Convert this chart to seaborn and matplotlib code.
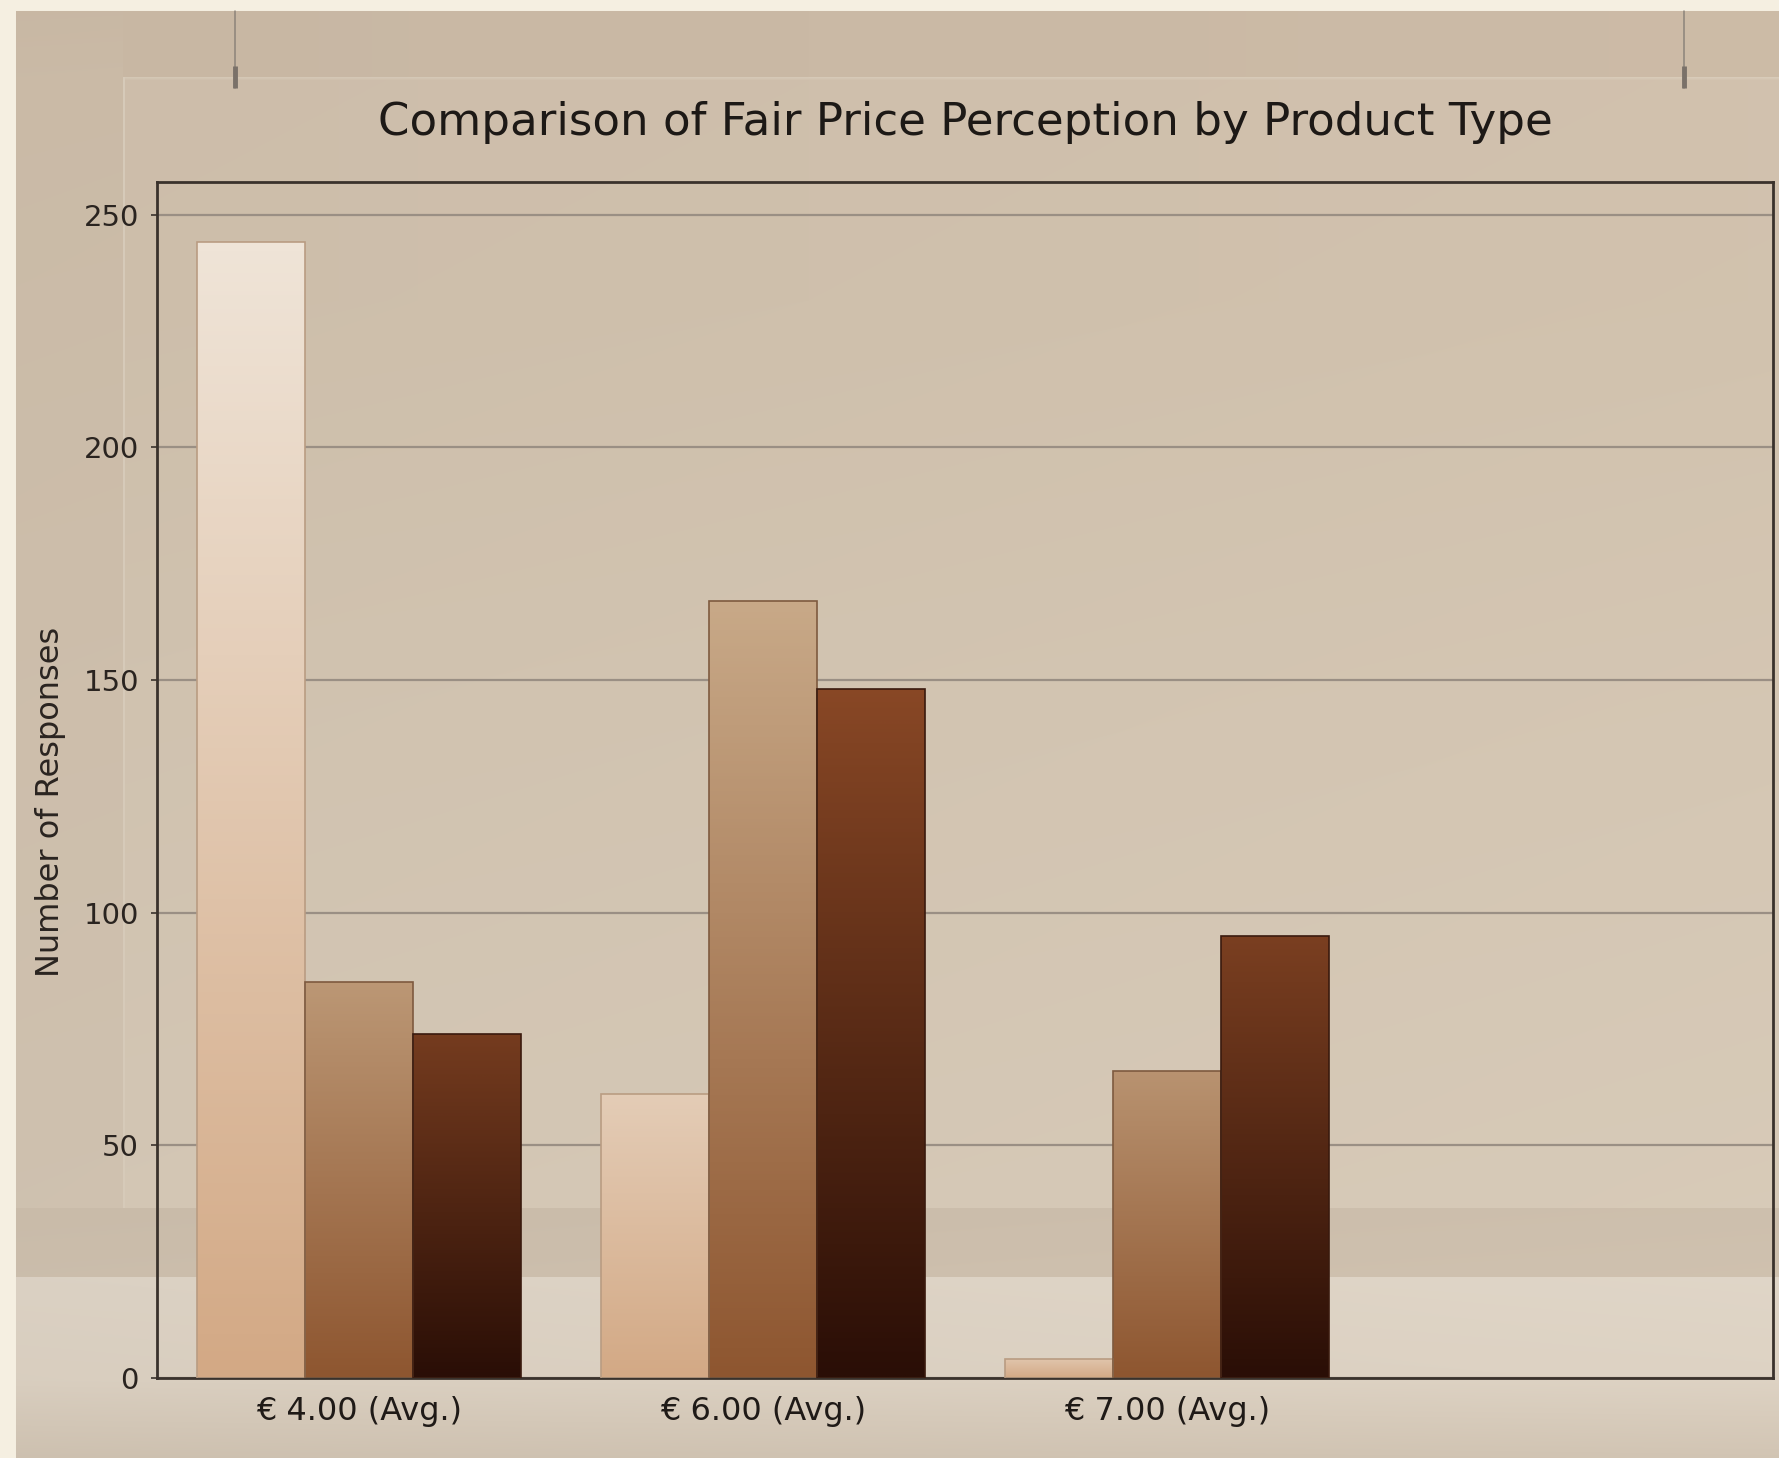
import numpy as np
import pandas as pd
import matplotlib
matplotlib.use("Agg")
import matplotlib.pyplot as plt
import seaborn as sns
from matplotlib.colors import LinearSegmentedColormap, to_rgb
from matplotlib.lines import Line2D

# ---- data -------------------------------------------------------------
price_points = ["€ 4.00 (Avg.)", "€ 6.00 (Avg.)", "€ 7.00 (Avg.)"]
product_types = ["Standard", "Premium", "Specialty"]
standard_counts = [244, 61, 4]
premium_counts = [85, 167, 66]
specialty_counts = [74, 148, 95]
y_ticks = [0, 50, 100, 150, 200, 250]

df = pd.DataFrame({
    "price": price_points * 3,
    "product": np.repeat(product_types, len(price_points)),
    "responses": standard_counts + premium_counts + specialty_counts,
})

# bottom / top colours of the vertical gradient for each product type
bar_bottom = ["#d3a985", "#8e5630", "#2a0e06"]
bar_top = ["#f0e6da", "#d6bd9d", "#a5592f"]
bar_mid = ["#e2c6aa", "#b48763", "#5e2a15"]
bar_edge = ["#b99c82", "#7e5a3f", "#3a1a0e"]

sns.set_theme(style="ticks")
plt.rcParams["font.family"] = ["DejaVu Sans"]

W, H = 1779, 1458
fig = plt.figure(figsize=(W / 100, H / 100), dpi=100)
fig.patch.set_facecolor("#f5efe1")

# ---- wall backdrop ------------------------------------------------------
def lerp_cols(y, stops, cols):
    cols = np.array([to_rgb(c) for c in cols])
    return np.stack([np.interp(y, stops, cols[:, k]) for k in range(3)], axis=-1)

yy = np.arange(H)
wall = lerp_cols(yy, [0, 77, 700, 1207, 1208, 1276, 1277, 1380, 1458],
                 ["#cab9a5", "#ccbca8", "#cfc0ad", "#d1c3b1", "#cbbdab",
                  "#cdbfad", "#ddd3c5", "#dbd0c1", "#cfc2b1"])
panel = lerp_cols(yy, [0, 76, 77, 80, 300, 700, 1207, 1208, 1276, 1277, 1380, 1458],
                  ["#cab9a5", "#cab9a5", "#d6c9b7", "#cfbfac", "#cfc0ac", "#d2c4b1",
                   "#d5c8b6", "#cbbdab", "#cdbfad", "#ddd3c5", "#dbd0c1", "#cfc2b1"])
img = np.repeat(wall[:, None, :], W, axis=1)
img[:, 123:, :] = panel[:, None, :]
img[77:1208, 123:125, :] = to_rgb("#d8ccbb")
# slight brightening towards the right
shade = np.linspace(0.99, 1.012, W)[None, :, None]
img = np.clip(img * shade, 0, 1)
img[:11, :, :] = to_rgb("#f5efe1")
img[:, :16, :] = to_rgb("#f5efe1")

bg = fig.add_axes([0, 0, 1, 1], zorder=-10)
bg.imshow(img, extent=[0, 1, 0, 1], aspect="auto", origin="upper")
bg.set_axis_off()

# hanging wires
for xw in (235, 1684):
    fig.add_artist(Line2D([xw / W, xw / W], [1 - 11 / H, 1 - 88 / H],
                          transform=fig.transFigure, color="#8c837a", lw=1.1))
    fig.add_artist(Line2D([xw / W, xw / W], [1 - 66 / H, 1 - 88 / H],
                          transform=fig.transFigure, color="#7a7169", lw=3.5,
                          solid_capstyle="butt"))

# ---- bar chart ------------------------------------------------------------
ax = fig.add_axes([157 / W, (H - 1378) / H, (1773 - 157) / W, (1378 - 182) / H])
ax.set_facecolor("none")

sns.barplot(data=df, x="price", y="responses", hue="product",
            order=price_points, hue_order=product_types,
            palette=bar_mid, saturation=1, width=0.8, legend=False,
            linewidth=1.2, ax=ax)

YMAX = 257
grad = np.linspace(0, 1, 256)[:, None]
for i, cont in enumerate(ax.containers):
    cmap = LinearSegmentedColormap.from_list(f"g{i}", [bar_bottom[i], bar_top[i]])
    for bar in cont:
        x0, w, h = bar.get_x(), bar.get_width(), bar.get_height()
        # taller bars reach further up the colour ramp
        frac = 0.45 + 0.55 * h / YMAX
        im = ax.imshow(grad * frac, extent=[x0, x0 + w, 0, h], origin="lower",
                       aspect="auto", cmap=cmap, vmin=0, vmax=1, zorder=2)
        im.set_clip_path(bar)
        bar.set_facecolor("none")
        bar.set_edgecolor(bar_edge[i])
        bar.set_zorder(3)

ax.set_xlim(-0.5, 3.5)
ax.set_ylim(0, YMAX)
ax.set_yticks(y_ticks)
ax.yaxis.grid(True, color="#9a8f84", linewidth=1.6)
ax.xaxis.grid(False)
ax.set_axisbelow(True)

for side in ("left", "right", "top", "bottom"):
    ax.spines[side].set_visible(True)
    ax.spines[side].set_color("#3a322c")
    ax.spines[side].set_linewidth(2.0)

ax.tick_params(axis="y", labelsize=21, length=4, width=1.2, color="#3a322c",
               labelcolor="#2a2420", pad=9)
ax.tick_params(axis="x", labelsize=23, length=0, labelcolor="#1f1a17", pad=13)

ax.set_xlabel("")
ax.set_ylabel("Number of Responses", fontsize=23, color="#2a2420")
ax.yaxis.set_label_coords(-0.0563, 0.482)
ax.set_title("Comparison of Fair Price Perception by Product Type",
             fontsize=32.5, color="#1d1916", pad=34)

fig.savefig("out.png", dpi=100, facecolor=fig.get_facecolor())
